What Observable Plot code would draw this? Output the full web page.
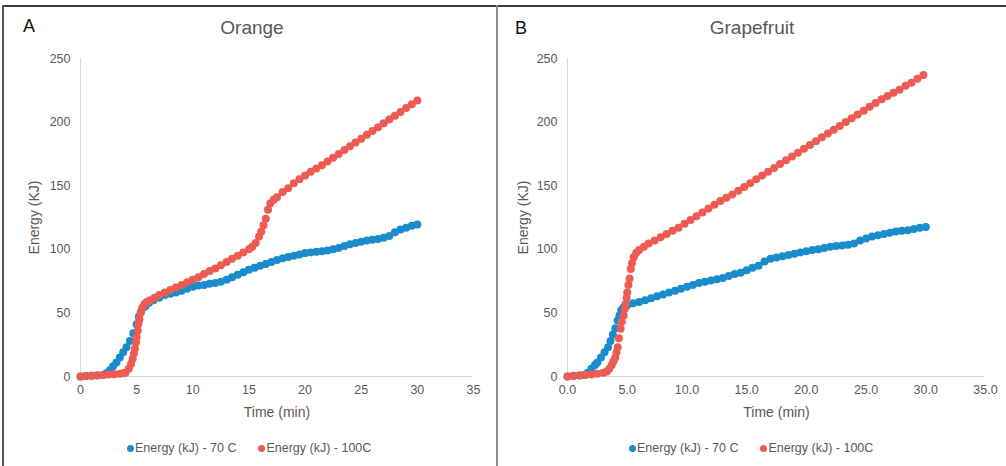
<!DOCTYPE html>
<html>
<head>
<meta charset="utf-8">
<script src="https://cdn.jsdelivr.net/npm/d3@7"></script>
<script src="https://cdn.jsdelivr.net/npm/@observablehq/plot@0.6"></script>
<style>
  html, body { margin: 0; padding: 0; background: #fff; }
  #wrap { position: relative; width: 1006px; height: 466px; overflow: hidden; font-family: "Liberation Sans", Arial, sans-serif; }
  .panel { position: absolute; top: 0; height: 466px; }
  .frameTop { position: absolute; left: 3px; top: 5px; width: 1003px; height: 2px; background: #3a3a3a; }
  .frameLeft { position: absolute; left: 2px; top: 5px; width: 2px; height: 461px; background: #555; }
  .divider { position: absolute; left: 496px; top: 5px; width: 2px; height: 461px; background: #8a8a8a; }
  .letter { position: absolute; font-size: 18px; color: #111; }
  .title { position: absolute; font-size: 19px; color: #595959; transform: translateX(-50%); white-space: nowrap; }
  .legend { position: absolute; font-size: 12.5px; color: #595959; white-space: nowrap; display: flex; align-items: center; }
  .legend .sw { display: inline-block; width: 7px; height: 7px; border-radius: 50%; margin-right: 1px; }
  .legend .item { display: inline-flex; align-items: center; margin-right: 22px; }
  svg { position: absolute; }
  svg [aria-label="x-axis label"], svg [aria-label="y-axis label"] { font-size: 14px; }
</style>
</head>
<body>
<div id="wrap">
  <div class="frameTop"></div>
  <div class="frameLeft"></div>
  <div class="divider"></div>
</div>
<script>
// ---------- Data ----------
const seriesNames = ["Energy (kJ) - 70 C", "Energy (kJ) - 100C"];
const panelLetters = ["A", "B"];
const panelTitles = ["Orange", "Grapefruit"];
const xTicks = [0, 5, 10, 15, 20, 25, 30, 35];
const yTicks = [0, 50, 100, 150, 200, 250];

// Orange, 70 C
const orange70Time = [0,0.5,1,1.5,2,2.3,2.6,2.9,3.2,3.5,3.8,4.1,4.4,4.7,5.0,5.2,5.4,5.6,5.8,6.1,6.5,7,7.5,8,8.5,9,9.5,10,10.5,11,11.5,12,12.5,13,13.5,14,14.5,15,15.5,16,16.5,17,17.5,18,18.5,19,19.5,20,20.5,21,21.5,22,22.5,23,23.5,24,24.5,25,25.5,26,26.5,27,27.5,28,28.5,29,29.5,30];
const orange70Energy = [0,0.3,0.5,0.8,1.2,2.5,5,8,11,15,19,23,28,34,41,47,51,54,55.5,58,60,62,64,65,66,67.5,69,70.5,71.5,72,73,73.5,74.5,76,78,80,82,84,85.5,87,88.5,90,91.5,93,94,95,96,97,97.5,98,98.5,99,100,101,102.5,104,105,106,107,107.5,108,109,110.5,113.5,115.5,117,118.5,119.5];

// Orange, 100 C
const orange100Time = [0,0.5,1,1.5,2,2.5,3,3.5,3.8,4.0,4.3,4.5,4.65,4.75,4.85,4.95,5.0,5.1,5.15,5.25,5.35,5.5,5.7,5.9,6.2,6.6,7,7.5,8,8.5,9,9.5,10,10.5,11,11.5,12,12.5,13,13.5,14,14.5,15,15.3,15.6,15.9,16.1,16.3,16.5,16.7,16.9,17.2,17.5,18,18.5,19,19.5,20,20.5,21,21.5,22,22.5,23,23.5,24,24.5,25,25.5,26,26.5,27,27.5,28,28.5,29,29.5,30];
const orange100Energy = [0,0.3,0.6,0.9,1.2,1.5,1.8,2.2,2.6,3,6,10,14,18,22,27,31,36,41,45,50,54,57,58.5,60,62,64,66,68,70,72,74,76,78,80.5,83,85,87.5,90,92.5,95,97.5,100,102,105,110,114,119,124,131,136,139,141,145,148,152,155,158,161,163.5,166,169,172,175,178,181,184,187,190,193,196,199,202,205,208,211,214,217];

// Grapefruit, 70 C
const grapefruit70Time = [0,0.5,1,1.4,1.7,2.0,2.3,2.5,2.8,3.1,3.4,3.6,3.8,4.0,4.2,4.35,4.5,4.7,5,5.5,6,6.5,7,7.5,8,8.5,9,9.5,10,10.5,11,11.5,12,12.5,13,13.5,14,14.5,15,15.5,16,16.5,17,17.5,18,18.5,19,19.5,20,20.5,21,21.5,22,22.5,23,23.5,24,24.5,25,25.5,26,26.5,27,27.5,28,28.5,29,29.5,30];
const grapefruit70Energy = [0,0.5,0.8,1.2,3,6,9,11,15,19,23,28,33,38,44,48,52,54.5,56,57.5,58.5,60,61.5,63,64.5,66,67.5,69,70.5,72,73.5,74.5,75.5,76.5,77.5,79,80.5,81.5,83.5,85.5,87,90.5,92.5,93.5,94.5,95.5,96.5,97.5,98.5,99.5,100,101,102,102.5,103,103.5,104.5,107,108.5,110,111,112,113,114,114.5,115,116,117,117.5];

// Grapefruit, 100 C
const grapefruit100Time = [0,0.5,1,1.5,2,2.5,3,3.3,3.5,3.7,3.85,4.0,4.1,4.2,4.3,4.45,4.55,4.7,4.8,4.86,4.95,5.0,5.1,5.2,5.3,5.4,5.55,5.75,6.0,6.4,6.8,7.3,7.8,8.3,8.8,9.3,9.8,10.3,10.8,11.3,11.8,12.3,12.8,13.3,13.8,14.3,14.8,15.3,15.8,16.3,16.8,17.3,17.8,18.3,18.8,19.3,19.8,20.3,20.8,21.3,21.8,22.3,22.8,23.3,23.8,24.3,24.8,25.3,25.8,26.3,26.8,27.3,27.8,28.3,28.8,29.3,29.8];
const grapefruit100Energy = [0,0.4,0.8,1.2,1.6,2.2,3,4,6,9,12,15,19,23,30,37.5,43,48,53,57,62,66,72,77,84.6,89,93.8,97,99.5,102,104.5,107,109.5,112,114.5,117,120,123,126,129,132,135,138,140.5,143,146,149,152,155,158,161,164,167,170,173,176,179,182,185,188,191,194,197,200,203,206,209,212,215,218,220.5,223,225.5,228.5,231,234,237];

const colors = ["#1a8ccb", "#ee5b52"];

function rows(times, energies, series) {
  return times.map((t, i) => ({time: t, energy: energies[i], series}));
}

const panels = [
  {
    left: 0, width: 497, marginLeft: 80, marginRight: 24, yLabelOffset: 51,
    data: [rows(orange70Time, orange70Energy, seriesNames[0]), rows(orange100Time, orange100Energy, seriesNames[1])],
    tickFormat: d => String(d),
    letterX: 23, letterY: 16, titleX: 252, legendX: 127
  },
  {
    left: 497, width: 509, marginLeft: 70, marginRight: 21, yLabelOffset: 49,
    data: [rows(grapefruit70Time, grapefruit70Energy, seriesNames[0]), rows(grapefruit100Time, grapefruit100Energy, seriesNames[1])],
    tickFormat: d3.format(".1f"),
    letterX: 18, letterY: 18, titleX: 255, legendX: 132
  }
];

const wrap = document.getElementById("wrap");
const svgTop = 40, svgHeight = 390;

panels.forEach((p, k) => {
  const panel = document.createElement("div");
  panel.className = "panel";
  panel.style.left = p.left + "px";
  panel.style.width = p.width + "px";
  wrap.appendChild(panel);

  const chart = Plot.plot({
    width: p.width,
    height: svgHeight,
    marginTop: 18,
    marginBottom: 54,
    marginLeft: p.marginLeft,
    marginRight: p.marginRight,
    style: {fontFamily: "'Liberation Sans', Arial, sans-serif", fontSize: "12.5px", color: "#595959", background: "transparent"},
    x: {domain: [0, 35], ticks: xTicks, tickFormat: p.tickFormat, tickSize: 0, tickPadding: 9,
        label: "Time (min)", labelAnchor: "center", labelArrow: "none", labelOffset: 40},
    y: {domain: [0, 250], ticks: yTicks, tickSize: 0, tickPadding: 10,
        label: "Energy (KJ)", labelAnchor: "center", labelArrow: "none", labelOffset: p.yLabelOffset},
    marks: [
      Plot.ruleX([0], {stroke: "#d9d9d9", strokeWidth: 1}),
      Plot.ruleY([0], {stroke: "#d9d9d9", strokeWidth: 1}),
      Plot.dot(p.data[0], {x: "time", y: "energy", r: 4, fill: colors[0], stroke: "none"}),
      Plot.dot(p.data[1], {x: "time", y: "energy", r: 4, fill: colors[1], stroke: "none"})
    ]
  });
  chart.style.left = "0px";
  chart.style.top = svgTop + "px";
  panel.appendChild(chart);

  const letter = document.createElement("div");
  letter.className = "letter";
  letter.style.left = p.letterX + "px";
  letter.style.top = p.letterY + "px";
  letter.textContent = panelLetters[k];
  panel.appendChild(letter);

  const title = document.createElement("div");
  title.className = "title";
  title.style.left = p.titleX + "px";
  title.style.top = 17 + "px";
  title.textContent = panelTitles[k];
  panel.appendChild(title);

  const legend = document.createElement("div");
  legend.className = "legend";
  legend.style.left = p.legendX + "px";
  legend.style.top = 441 + "px";
  seriesNames.forEach((name, i) => {
    const item = document.createElement("span");
    item.className = "item";
    const sw = document.createElement("span");
    sw.className = "sw";
    sw.style.background = colors[i];
    item.appendChild(sw);
    item.appendChild(document.createTextNode(name));
    legend.appendChild(item);
  });
  panel.appendChild(legend);
});
</script>
</body>
</html>
